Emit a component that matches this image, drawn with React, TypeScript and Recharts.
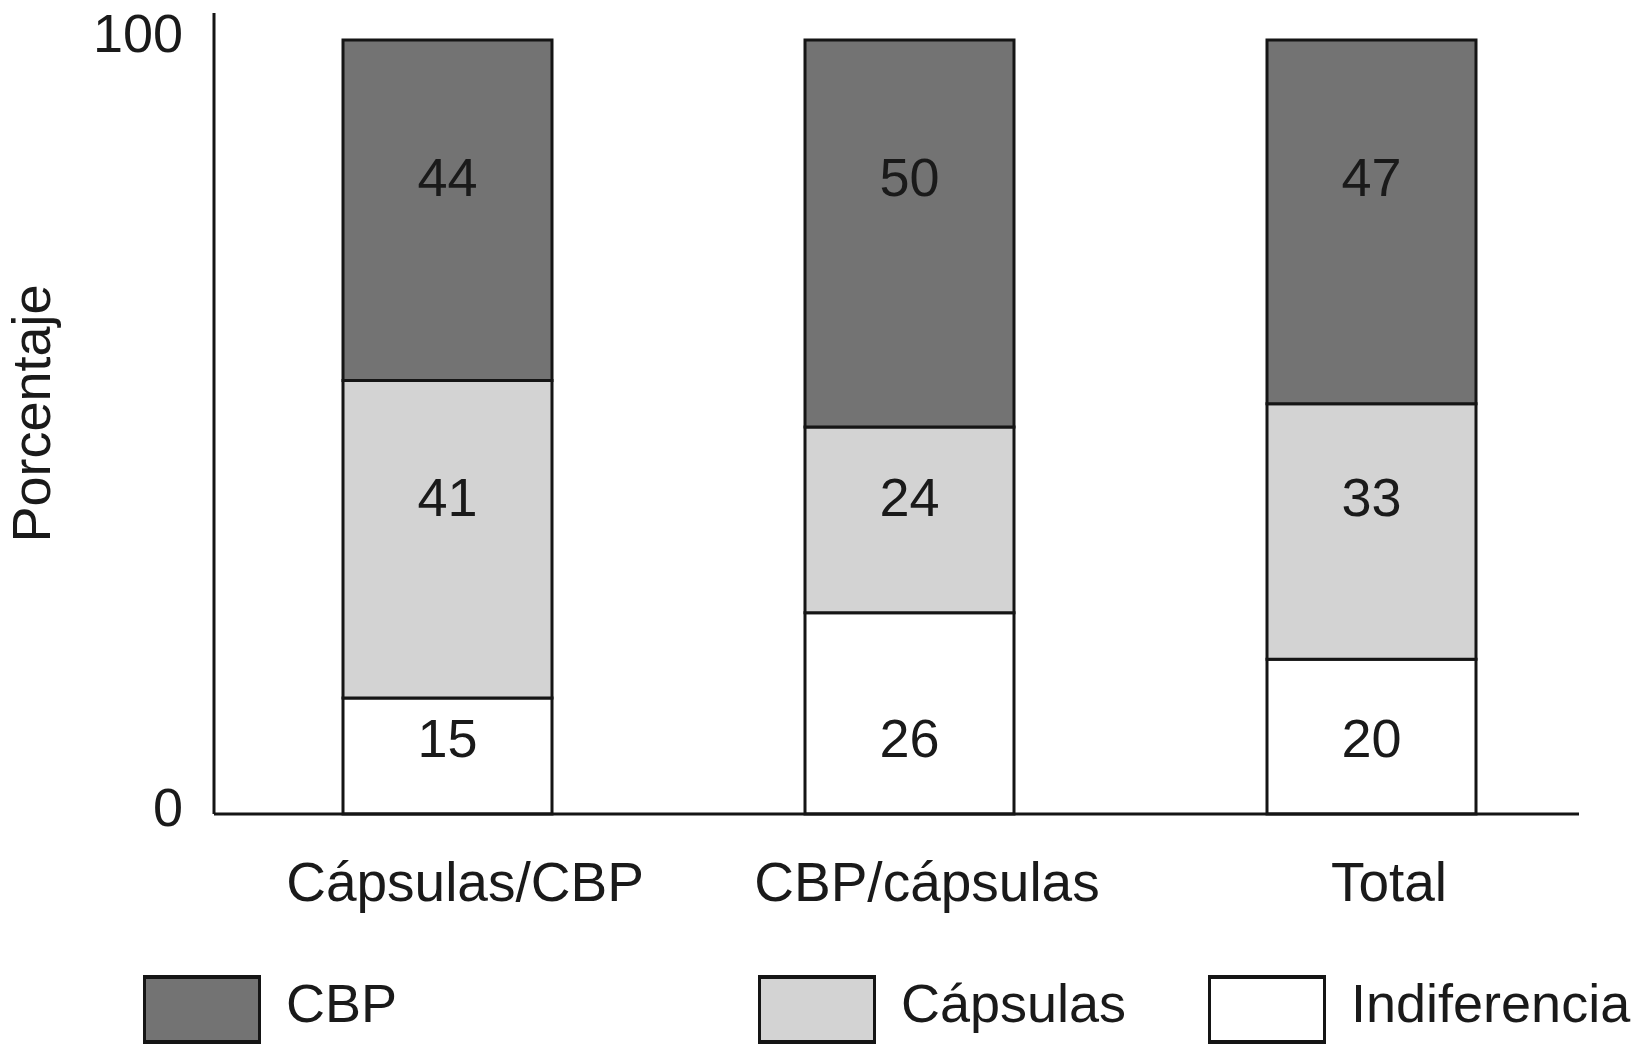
import React from 'react';
import { BarChart, Bar, XAxis, YAxis, LabelList } from 'recharts';

const categories = ['Cápsulas/CBP', 'CBP/cápsulas', 'Total'];
const cbp = [44, 50, 47];
const capsulas = [41, 24, 33];
const indiferencia = [15, 26, 20];
const yTicks = [0, 100];

const data = categories.map((name, i) => ({
  name,
  Indiferencia: indiferencia[i],
  'Cápsulas': capsulas[i],
  CBP: cbp[i],
}));

const FONT = '"Liberation Sans", Arial, Helvetica, sans-serif';
const TEXT = '#1a1a1a';
const EDGE = '#151515';

// stacked bottom -> top
const series = [
  { key: 'Indiferencia', color: '#ffffff' },
  { key: 'Cápsulas', color: '#d3d3d3' },
  { key: 'CBP', color: '#737373' },
];

// labels sit on fixed rows in the original figure
const labelRowY: Record<string, number> = { CBP: 177, 'Cápsulas': 497, Indiferencia: 738 };

const legendItems = [
  { key: 'CBP', color: '#737373', left: 143 },
  { key: 'Cápsulas', color: '#d3d3d3', left: 758 },
  { key: 'Indiferencia', color: '#ffffff', left: 1208 },
];

const rowLabel = (key: string) => (props: any) => {
  const { x, width, value } = props;
  return (
    <text
      x={Number(x) + Number(width) / 2}
      y={labelRowY[key]}
      textAnchor="middle"
      dominantBaseline="central"
      fontFamily={FONT}
      fontSize={54}
      fill={TEXT}
    >
      {value}
    </text>
  );
};

const YTitle = (props: any) => {
  const vb = props.viewBox || {};
  const cy = vb.y + vb.height / 2;
  return (
    <text
      x={31}
      y={cy}
      transform={`rotate(-90, 31, ${cy})`}
      textAnchor="middle"
      dominantBaseline="central"
      fontFamily={FONT}
      fontSize={54}
      fill={TEXT}
    >
      Porcentaje
    </text>
  );
};

const App = () => {
  return (
    <div style={{ position: 'absolute', left: 0, top: 0, width: 1637, height: 1046, background: '#fff' }}>
      <BarChart
        width={1637}
        height={1046}
        data={data}
        margin={{ top: 13, right: 58, bottom: 132, left: 114 }}
        barSize={209}
      >
        <XAxis
          dataKey="name"
          height={100}
          axisLine={{ stroke: EDGE, strokeWidth: 3 }}
          tickLine={false}
          tickSize={0}
          tickMargin={48}
          padding={{ left: 2, right: -23 }}
          tick={{ fontFamily: FONT, fontSize: 55, fill: TEXT, dx: 18 }}
        />
        <YAxis
          width={100}
          domain={[0, 103.5]}
          ticks={yTicks}
          axisLine={{ stroke: EDGE, strokeWidth: 3 }}
          tickLine={false}
          tickSize={0}
          tickMargin={31}
          tick={{ fontFamily: FONT, fontSize: 54, fill: TEXT, dy: -7 }}
          label={<YTitle />}
        />
        {series.map((s) => (
          <Bar
            key={s.key}
            dataKey={s.key}
            stackId="a"
            fill={s.color}
            stroke={EDGE}
            strokeWidth={3}
            isAnimationActive={false}
          >
            <LabelList dataKey={s.key} content={rowLabel(s.key)} />
          </Bar>
        ))}
      </BarChart>
      {legendItems.map((it) => (
        <div key={it.key} style={{ position: 'absolute', left: it.left, top: 975, display: 'flex', alignItems: 'center' }}>
          <div
            style={{
              width: 118,
              height: 69,
              boxSizing: 'border-box',
              border: `4px solid ${EDGE}`,
              borderLeftWidth: 3,
              borderRightWidth: 3,
              background: it.color,
            }}
          />
          <span style={{ marginLeft: 25, fontFamily: FONT, fontSize: 54, color: TEXT, lineHeight: '69px', position: 'relative', top: -6 }}>
            {it.key}
          </span>
        </div>
      ))}
    </div>
  );
};

export default App;
